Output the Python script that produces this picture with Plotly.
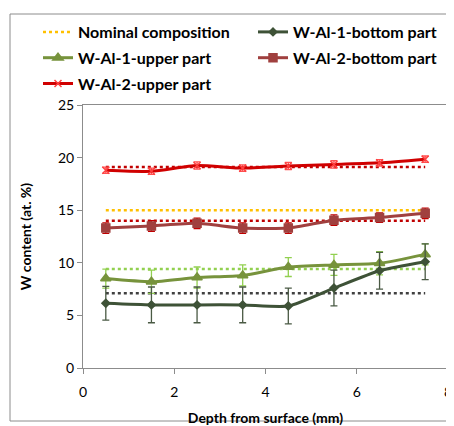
import plotly.graph_objects as go

depth = [0.5, 1.5, 2.5, 3.5, 4.5, 5.5, 6.5, 7.5]

al1_bottom = [6.15, 6.0, 6.0, 6.0, 5.9, 7.6, 9.25, 10.1]
al1_bottom_err = [1.6, 1.7, 1.7, 1.7, 1.7, 1.7, 1.75, 1.7]

al1_upper = [8.5, 8.2, 8.6, 8.8, 9.6, 9.8, 9.95, 10.8]
al1_upper_err = [0.9, 1.1, 1.0, 1.0, 0.9, 1.0, 1.1, 1.0]

al2_bottom = [13.3, 13.5, 13.75, 13.3, 13.3, 14.05, 14.3, 14.7]
al2_bottom_err = [0.5, 0.5, 0.5, 0.5, 0.5, 0.5, 0.45, 0.5]

al2_upper = [18.8, 18.7, 19.25, 19.0, 19.2, 19.35, 19.5, 19.85]
al2_upper_err = [0.3, 0.3, 0.35, 0.3, 0.35, 0.35, 0.3, 0.3]

nominal_main = 15.0
nominal_al1_bottom = 7.1
nominal_al1_upper = 9.4
nominal_al2_bottom = 14.0
nominal_al2_upper = 19.1

x_ticks = [0, 2, 4, 6, 8]
y_ticks = [0, 5, 10, 15, 20, 25]

FONT = "Lato"

fig = go.Figure()

def nominal(val, color, name=None, show=False, legend="legend"):
    fig.add_trace(go.Scatter(
        x=depth, y=[val] * len(depth), mode="lines", name=name or "",
        line=dict(color=color, width=2.5, dash="dot"), showlegend=show,
        legend=legend, legendgroup=name or None, hoverinfo="skip"))

def series(y, err, name, color, errcolor, symbol, msize, mcolor, legend):
    fig.add_trace(go.Scatter(
        x=depth, y=y, mode="lines+markers", name=name, legend=legend,
        legendgroup=name,
        line=dict(color=color, width=3, shape="spline", smoothing=0.6),
        marker=dict(symbol=symbol, size=msize, color=mcolor,
                    line=dict(color=mcolor, width=1.5)),
        error_y=dict(type="data", array=err, visible=True, color=errcolor,
                     thickness=1.3, width=3.5)))

# dotted reference lines first (behind)
nominal(nominal_al1_bottom, "#404040")
nominal(nominal_al1_upper, "#92D050")
nominal(nominal_al2_bottom, "#C00000")
nominal(nominal_al2_upper, "#C00000")

# left legend column
nominal(nominal_main, "#FFC000", "Nominal composition", True, "legend")
series(al1_upper, al1_upper_err, "W-Al-1-upper part", "#77933C", "#92D050",
       "triangle-up", 9, "#77933C", "legend")
series(al2_upper, al2_upper_err, "W-Al-2-upper part", "#D00000", "#FF5050",
       "x-thin", 7, "#FF4040", "legend")
# right legend column
series(al1_bottom, al1_bottom_err, "W-Al-1-bottom part", "#3E5237", "#4A5A44",
       "diamond", 6, "#3E5237", "legend2")
series(al2_bottom, al2_bottom_err, "W-Al-2-bottom part", "#A0403F", "#C00000",
       "square", 8, "#A0403F", "legend2")

# the page body has an 8px margin, so the figure is sized to fill the rest
W, H = 446, 418
ml, mr, mt, mb = 75, 6, 97, 58
pw, ph = W - ml - mr, H - mt - mb

def paper_x(px):
    return (px - ml) / pw

def paper_y(py):
    return (H - mb - py) / ph

leg_font = dict(family=FONT, size=16, color="#000000", weight="bold")
leg_common = dict(orientation="v", xanchor="left", yanchor="top",
                  font=leg_font, bgcolor="rgba(0,0,0,0)",
                  traceorder="grouped", tracegroupgap=2, itemwidth=30)

fig.update_layout(
    width=W, height=H,
    margin=dict(l=ml, r=mr, t=mt, b=mb),
    paper_bgcolor="white", plot_bgcolor="white",
    font=dict(family=FONT, size=14, color="#000000"),
    showlegend=True,
    legend=dict(x=paper_x(30), y=paper_y(7), **leg_common),
    legend2=dict(x=paper_x(245), y=paper_y(7), **leg_common),
    xaxis=dict(range=[0, 8], tickvals=x_ticks, showgrid=False, zeroline=False,
               automargin=False,
               showline=True, linecolor="#8C8C8C", linewidth=1, mirror=True,
               ticks="outside", ticklen=5, tickcolor="#8C8C8C",
               ticklabelstandoff=6,
               tickfont=dict(size=14),
               title=dict(text="Depth from surface (mm)", standoff=15,
                          font=dict(size=14, weight="bold"))),
    yaxis=dict(range=[0, 25], tickvals=y_ticks, showgrid=False, zeroline=False,
               showline=True, linecolor="#8C8C8C", linewidth=1, mirror=True,
               ticks="outside", ticklen=5, tickcolor="#8C8C8C",
               ticksuffix="\u00a0\u00a0\u00a0\u00a0",
               tickfont=dict(size=14),
               title=dict(text="W content (at. %)", standoff=23,
                          font=dict(size=14, weight="bold"))),
    shapes=[dict(type="rect", xref="paper", yref="paper",
                 x0=paper_x(2), x1=paper_x(442),
                 y0=paper_y(413), y1=paper_y(6),
                 line=dict(color="#8C8C8C", width=1), fillcolor="rgba(0,0,0,0)",
                 layer="below")],
)

fig.write_html("out.html")
